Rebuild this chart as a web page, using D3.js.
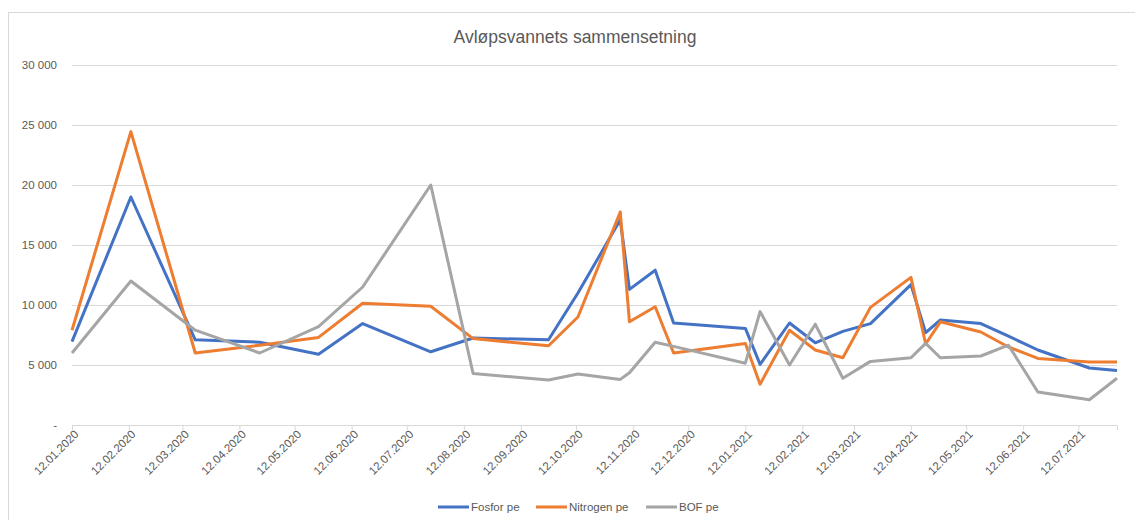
<!DOCTYPE html>
<html>
<head>
<meta charset="utf-8">
<script src="https://cdn.jsdelivr.net/npm/d3@7"></script>
<style>
  body { margin: 0; background: #fff; }
  text { font-family: "Liberation Sans", Arial, sans-serif; fill: #595959; }
  .grid line { stroke: #d9d9d9; }
  .grid path { display: none; }
</style>
</head>
<body>
<div id="chart-area"></div>
<script>

// Sample dates (dd.mm.yyyy)
var dates = [
  "12.01.2020", "13.02.2020", "19.03.2020", "23.04.2020", "25.05.2020", "18.06.2020",
  "25.07.2020", "17.08.2020", "27.09.2020", "13.10.2020", "05.11.2020", "10.11.2020",
  "24.11.2020", "04.12.2020", "12.01.2021", "20.01.2021", "05.02.2021", "19.02.2021",
  "06.03.2021", "21.03.2021", "12.04.2021", "20.04.2021", "28.04.2021", "20.05.2021",
  "04.06.2021", "20.06.2021", "18.07.2021", "02.08.2021"
];

var fosfor = [
  6950, 19000, 7100, 6900, 5900, 8450,
  6100, 7250, 7100, 11000, 17100, 11300,
  12900, 8500, 8050, 5050, 8500, 6850,
  7800, 8450, 11700, 7700, 8750, 8450,
  7400, 6250, 4750, 4550
];

var nitrogen = [
  7900, 24450, 6000, 6650, 7300, 10150,
  9900, 7200, 6600, 9000, 17750, 8600,
  9850, 6000, 6800, 3400, 7900, 6250,
  5600, 9800, 12300, 6750, 8600, 7750,
  6500, 5550, 5250, 5250
];

var bof = [
  6000, 12000, 7900, 6000, 8200, 11500,
  20000, 4300, 3750, 4250, 3800, 4350,
  6900, 6550, 5150, 9450, 5000, 8400,
  3900, 5300, 5600, 6800, 5600, 5750,
  6650, 2750, 2100, 3900
];

var seriesNames = ["Fosfor pe", "Nitrogen pe", "BOF pe"];
var seriesColors = ["#4472C4", "#ED7D31", "#A5A5A5"];

var xTickLabels = [
  "12.01.2020", "12.02.2020", "12.03.2020", "12.04.2020", "12.05.2020", "12.06.2020",
  "12.07.2020", "12.08.2020", "12.09.2020", "12.10.2020", "12.11.2020", "12.12.2020",
  "12.01.2021", "12.02.2021", "12.03.2021", "12.04.2021", "12.05.2021", "12.06.2021",
  "12.07.2021"
];

var yTicks = [0, 5000, 10000, 15000, 20000, 25000, 30000];

var chartTitle = "Avløpsvannets sammensetning";


/*
 * LineChart - Object constructor function
 */

LineChart = function(_parentElement){
  this.parentElement = _parentElement;
  this.parseDate = d3.timeParse("%d.%m.%Y");
  this.initVis();
}

LineChart.prototype.initVis = function(){
  var vis = this;

  vis.margin = { top: 65, right: 18, bottom: 95, left: 72 };
  vis.width = 1135 - vis.margin.left - vis.margin.right;
  vis.height = 520 - vis.margin.top - vis.margin.bottom;

  vis.root = d3.select("#" + vis.parentElement).append("svg")
    .attr("width", 1135)
    .attr("height", 520);

  // chart border
  vis.root.append("rect")
    .attr("x", 8.5)
    .attr("y", 12.5)
    .attr("width", 1140)
    .attr("height", 540)
    .attr("fill", "none")
    .attr("stroke", "#d9d9d9");

  vis.root.append("text")
    .attr("x", 575)
    .attr("y", 43)
    .attr("text-anchor", "middle")
    .attr("font-size", "17.5px")
    .text(chartTitle);

  vis.svg = vis.root.append("g")
    .attr("transform", "translate(" + vis.margin.left + "," + vis.margin.top + ")");

  // Scales and Axes
  vis.x = d3.scaleTime()
    .range([0, vis.width]);

  vis.y = d3.scaleLinear()
    .domain([0, 30000])
    .range([vis.height, 0]);

  vis.fmt = function(d){
    return d === 0 ? "-" : d3.format(",")(d).replace(/,/g, " ");
  };

  vis.wrangleData();
}

LineChart.prototype.wrangleData = function(){
  var vis = this;

  var xs = dates.map(vis.parseDate);
  var cols = [fosfor, nitrogen, bof];

  vis.displayData = seriesNames.map(function(name, i){
    return {
      name: name,
      color: seriesColors[i],
      values: xs.map(function(d, j){ return { date: d, value: cols[i][j] }; })
    };
  });

  vis.x.domain(d3.extent(xs));
  vis.tickDates = xTickLabels.map(vis.parseDate);

  vis.updateVis();
}

LineChart.prototype.updateVis = function(){
  var vis = this;

  // gridlines
  vis.svg.append("g")
    .attr("class", "grid")
    .call(d3.axisLeft(vis.y).tickValues(yTicks.slice(1)).tickSize(-vis.width).tickFormat(""));

  // y labels
  vis.svg.append("g").selectAll("text")
    .data(yTicks)
    .enter().append("text")
    .attr("x", -15)
    .attr("y", function(d){ return vis.y(d); })
    .attr("dy", "0.35em")
    .attr("text-anchor", "end")
    .attr("font-size", "11.5px")
    .text(vis.fmt);

  // x axis
  var xAxis = d3.axisBottom(vis.x)
    .tickValues(vis.tickDates)
    .tickSize(5)
    .tickFormat(function(d, i){ return xTickLabels[i]; });

  var gx = vis.svg.append("g")
    .attr("class", "x-axis axis")
    .attr("transform", "translate(0," + vis.height + ")")
    .call(xAxis);

  gx.select(".domain").attr("stroke", "#d9d9d9");
  gx.selectAll(".tick line").attr("stroke", "#d9d9d9");
  gx.selectAll(".tick text")
    .attr("font-family", null)
    .attr("font-size", "11.5px")
    .attr("fill", "#595959")
    .attr("text-anchor", "end")
    .attr("transform", "translate(4,7) rotate(-45)")
    .attr("dy", "0.35em")
    .attr("y", 0)
    .attr("x", 0);

  // lines
  var line = d3.line()
    .x(function(d){ return vis.x(d.date); })
    .y(function(d){ return vis.y(d.value); });

  vis.svg.selectAll(".line")
    .data(vis.displayData)
    .enter().append("path")
    .attr("class", "line")
    .attr("fill", "none")
    .attr("stroke", function(d){ return d.color; })
    .attr("stroke-width", 3)
    .attr("stroke-linejoin", "round")
    .attr("d", function(d){ return line(d.values); });

  // legend
  var legendX = [438, 536, 646];
  var legend = vis.root.append("g").selectAll("g")
    .data(vis.displayData)
    .enter().append("g")
    .attr("transform", function(d, i){ return "translate(" + legendX[i] + ",507)"; });

  legend.append("line")
    .attr("x1", 0).attr("x2", 31)
    .attr("stroke", function(d){ return d.color; })
    .attr("stroke-width", 3);

  legend.append("text")
    .attr("x", 33)
    .attr("dy", "0.35em")
    .attr("font-size", "11.5px")
    .text(function(d){ return d.name; });
}

new LineChart("chart-area");

</script>
</body>
</html>
